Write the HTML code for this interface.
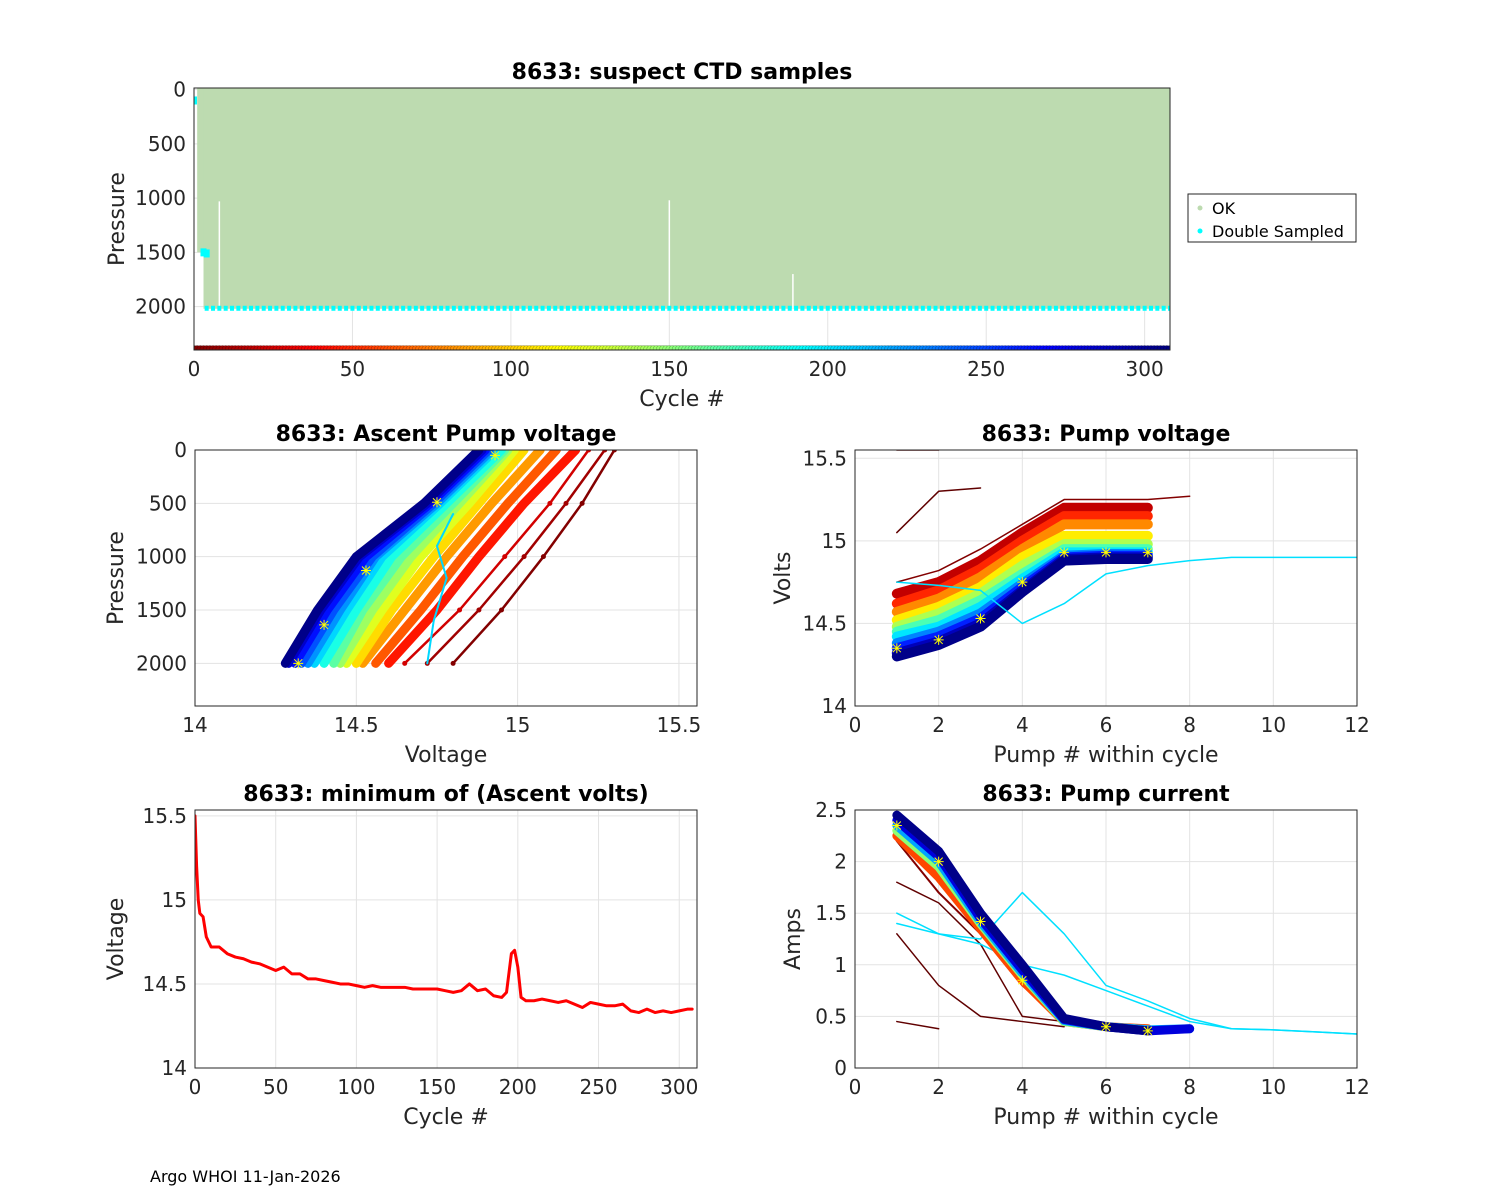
<!DOCTYPE html>
<html><head><meta charset="utf-8"><style>
html,body{margin:0;padding:0;background:#fff}
svg{display:block;font-family:"DejaVu Sans","Liberation Sans",sans-serif}
</style></head><body>
<svg id="fig" width="1500" height="1200" viewBox="0 0 1500 1200" xmlns="http://www.w3.org/2000/svg">
<rect width="1500" height="1200" fill="#fff"/>
<text x="150" y="1182" font-size="16" fill="#000">Argo WHOI 11-Jan-2026</text>
</svg>
<script>
// ---------- data ----------
const minVoltCycles = [0,1,2,3,5,7,10,15,20,25,30,35,40,45,50,55,60,65,70,75,80,85,90,95,100,105,110,115,120,125,130,135,140,145,150,155,160,165,170,175,180,185,190,193,196,198,200,202,205,210,215,220,225,230,235,240,245,250,255,260,265,270,275,280,285,290,295,300,305,308];
const minVoltValues = [15.5,15.2,15.0,14.92,14.9,14.78,14.72,14.72,14.68,14.66,14.65,14.63,14.62,14.6,14.58,14.6,14.56,14.56,14.53,14.53,14.52,14.51,14.5,14.5,14.49,14.48,14.49,14.48,14.48,14.48,14.48,14.47,14.47,14.47,14.47,14.46,14.45,14.46,14.5,14.46,14.47,14.43,14.42,14.45,14.68,14.7,14.6,14.42,14.4,14.4,14.41,14.4,14.39,14.4,14.38,14.36,14.39,14.38,14.37,14.37,14.38,14.34,14.33,14.35,14.33,14.34,14.33,14.34,14.35,14.35];

const profPressures = [2000,1500,1000,500,0];
const profCycles = [1,10,25,45,65,85,105,125,145,165,185,205,225,245,265,285,305];
const profVolts = [
[14.80,14.95,15.08,15.20,15.30],[14.72,14.88,15.02,15.15,15.27],[14.65,14.82,14.96,15.10,15.22],
[14.60,14.75,14.88,15.02,15.18],[14.56,14.70,14.83,14.97,15.12],[14.52,14.65,14.78,14.92,15.07],
[14.50,14.61,14.74,14.88,15.02],[14.47,14.58,14.70,14.85,14.99],[14.45,14.55,14.67,14.82,14.97],
[14.43,14.52,14.64,14.80,14.96],[14.40,14.50,14.61,14.78,14.95],[14.37,14.47,14.58,14.76,14.93],
[14.35,14.45,14.56,14.75,14.92],[14.33,14.43,14.55,14.74,14.91],[14.31,14.41,14.53,14.73,14.90],
[14.29,14.39,14.51,14.72,14.89],[14.28,14.38,14.50,14.71,14.88]];

const pvCycles = [1,20,50,80,110,140,170,200,230,260,290,305];
const pvVolts = [
[14.75,14.82,14.95,15.10,15.25,15.25,15.25,15.27],[14.68,14.75,14.88,15.05,15.20,15.20,15.20],
[14.62,14.70,14.83,15.00,15.15,15.15,15.15],[14.57,14.65,14.78,14.95,15.10,15.10,15.10],
[14.52,14.60,14.72,14.90,15.03,15.03,15.03],[14.48,14.56,14.68,14.85,14.98,14.98,14.98],
[14.45,14.52,14.64,14.80,14.95,14.95,14.95],[14.42,14.48,14.60,14.77,14.93,14.93,14.93],
[14.38,14.45,14.56,14.74,14.91,14.92,14.92],[14.35,14.42,14.53,14.72,14.90,14.91,14.91],
[14.32,14.39,14.50,14.70,14.89,14.90,14.90],[14.30,14.37,14.48,14.69,14.88,14.89,14.89]];
const pvOutlier = [14.75,14.73,14.7,14.5,14.62,14.8,14.85,14.88,14.9,14.9,14.9,14.9];

const pcCycles = [1,60,150,220,280,305];
const pcAmps = [
[2.20,1.70,1.30,0.80,0.45,0.40,0.38],[2.25,1.85,1.35,0.85,0.45,0.40,0.38],
[2.30,1.95,1.40,0.90,0.45,0.40,0.37],[2.35,2.00,1.42,0.92,0.46,0.40,0.37,0.38],
[2.40,2.05,1.45,0.95,0.47,0.40,0.36,0.38],[2.45,2.10,1.50,1.00,0.48,0.40,0.36]];
const pcCyanA = [1.4,1.3,1.25,1.7,1.3,0.8,0.65,0.48,0.38,0.37,0.35,0.33];
const pcCyanB = [1.5,1.3,1.2,1.0,0.9,0.75,0.6,0.45,0.38,0.37,0.35,0.33];
const pcRedA = [1.8,1.6,1.2,0.5,0.45,0.4];
const pcRedB = [1.3,0.8,0.5,0.45,0.4];

const nCycles = 308;
const okMaxPressure = 2020;
const gapCycles = [8,150,189];
const gapTops = [1030,1020,1700];
const pumpTicks = [0,2,4,6,8,10,12];

// ---------- helpers ----------
const NS="http://www.w3.org/2000/svg";
const fig=document.getElementById('fig');
function el(tag,attrs,parent){const e=document.createElementNS(NS,tag);for(const k in attrs)e.setAttribute(k,attrs[k]);(parent||fig).appendChild(e);return e;}
function jet(t){const c=v=>Math.max(0,Math.min(1,v));const r=c(1.5-Math.abs(4*t-3)),g=c(1.5-Math.abs(4*t-2)),b=c(1.5-Math.abs(4*t-1));return `rgb(${Math.round(r*255)},${Math.round(g*255)},${Math.round(b*255)})`;}
function cyc(c){return jet(1-c/nCycles);}
function axes(o){
  const g=el('g',{});
  
  
  const sx=v=>o.x0+(v-o.xmin)/(o.xmax-o.xmin)*o.w;
  const sy=o.yrev?(v=>o.y0+(v-o.ymin)/(o.ymax-o.ymin)*o.h):(v=>o.y0+o.h-(v-o.ymin)/(o.ymax-o.ymin)*o.h);
  el('rect',{x:o.x0,y:o.y0,width:o.w,height:o.h,fill:'#fff'},g);
  o.xt.forEach(v=>{const x=sx(v);el('line',{x1:x,x2:x,y1:o.y0,y2:o.y0+o.h,stroke:'#e3e3e3','stroke-width':1},g);
    const t=el('text',{x:x,y:o.y0+o.h+26,'font-size':20,'text-anchor':'middle',fill:'#262626'},g);t.textContent=v;
    });
  o.yt.forEach(v=>{const y=sy(v);el('line',{x1:o.x0,x2:o.x0+o.w,y1:y,y2:y,stroke:'#e3e3e3','stroke-width':1},g);
    const t=el('text',{x:o.x0-8,y:y+7,'font-size':20,'text-anchor':'end',fill:'#262626'},g);t.textContent=v;
    });
  const plot=el('g',{},g);
  const clip=el('clipPath',{id:'c'+o.name},g);el('rect',{x:o.x0,y:o.y0,width:o.w,height:o.h},clip);
  plot.setAttribute('clip-path',`url(#c${o.name})`);
  const tt=el('text',{x:o.x0+o.w/2,y:o.y0-9,'font-size':22,'font-weight':'bold','text-anchor':'middle',fill:'#000'},g);tt.textContent=o.title;
  
  const xl=el('text',{x:o.x0+o.w/2,y:o.y0+o.h+56,'font-size':22,'text-anchor':'middle',fill:'#262626'},g);xl.textContent=o.xlabel;
  
  const yx=o.x0-(o.ylOff||75),yy=o.y0+o.h/2;
  const yl=el('text',{x:yx,y:yy,'font-size':22,'text-anchor':'middle',fill:'#262626',transform:`rotate(-90 ${yx} ${yy})`},g);yl.textContent=o.ylabel;
  
  o.frame=()=>{el('rect',{x:o.x0,y:o.y0,width:o.w,height:o.h,fill:'none',stroke:'#262626','stroke-width':1},g);};
  return {sx,sy,plot,o};
}
function poly(a,xs,ys,color,w,name){
  const p=el('polyline',{points:xs.map((x,i)=>a.sx(x)+','+a.sy(ys[i])).join(' '),fill:'none',stroke:color,'stroke-width':w,'stroke-linejoin':'round','stroke-linecap':'round'},a.plot);
  return p;}
function star(a,x,y){const cx=a.sx(x),cy=a.sy(y);
  const s=el('path',{d:`M${cx-5},${cy}H${cx+5}M${cx},${cy-5}V${cy+5}M${cx-4},${cy-4}L${cx+4},${cy+4}M${cx-4},${cy+4}L${cx+4},${cy-4}`,stroke:'#ffff00','stroke-width':1},a.plot);
  }

// ---------- top chart ----------
const A=axes({name:'suspect-ctd-chart',x0:194,y0:88,w:976,h:262,xmin:0,xmax:308,ymin:-15,ymax:2400,yrev:true,
  xt:[0,50,100,150,200,250,300],yt:[0,500,1000,1500,2000],title:'8633: suspect CTD samples',xlabel:'Cycle #',ylabel:'Pressure',ylOff:70});
let r=el('rect',{x:A.sx(3),y:A.sy(-15),width:A.sx(nCycles)-A.sx(3),height:A.sy(okMaxPressure)-A.sy(-15),fill:'#bddbb0'},A.plot);

r=el('rect',{x:A.sx(1),y:A.sy(-15),width:A.sx(3)-A.sx(1),height:A.sy(1500)-A.sy(-15),fill:'#bddbb0'},A.plot);

gapCycles.forEach((c,i)=>{const l=el('line',{x1:A.sx(c),x2:A.sx(c),y1:A.sy(gapTops[i]),y2:A.sy(okMaxPressure),stroke:'#fff','stroke-width':1.5},A.plot);
  });
for(let c=4;c<=nCycles;c+=2){const d=el('rect',{x:A.sx(c)-2,y:A.sy(okMaxPressure)-3,width:4,height:5,fill:'#00ffff'},A.plot);
  }
[[0,100],[3,1500],[4,1510]].forEach(p=>{const d=el('rect',{x:A.sx(p[0])-3,y:A.sy(p[1])-4,width:6,height:8,fill:'#00ffff'},A.plot);
  });
for(let c=0;c<=nCycles;c++){const d=el('circle',{cx:A.sx(c),cy:A.sy(2400)-1,r:3.5,fill:cyc(c),stroke:'rgba(0,0,0,0.35)','stroke-width':0.6});
  A.plot.appendChild(d);
  }
A.o.frame();
const lg=el('g',{});
el('rect',{x:1188,y:194,width:168,height:48,fill:'#fff',stroke:'#262626','stroke-width':1},lg);
el('circle',{cx:1200,cy:208,r:2.5,fill:'#bddbb0'},lg);el('circle',{cx:1200,cy:231,r:2.5,fill:'#00ffff'},lg);
let t=el('text',{x:1212,y:214,'font-size':16},lg);t.textContent='OK';
t=el('text',{x:1212,y:237,'font-size':16},lg);t.textContent='Double Sampled';

// ---------- ascent pump voltage ----------
const B=axes({name:'ascent-pump-voltage-chart',x0:195,y0:450,w:502,h:256,xmin:14,xmax:15.556,ymin:0,ymax:2400,yrev:true,
  xt:[14,14.5,15,15.5],yt:[0,500,1000,1500,2000],title:'8633: Ascent Pump voltage',xlabel:'Voltage',ylabel:'Pressure',ylOff:72});
profCycles.forEach((c,i)=>{poly(B,profVolts[i],profPressures,cyc(c),c<30?2.5:9,'profile-cycle-'+c);
  profVolts[i].forEach((v,j)=>{const d=el('circle',{cx:B.sx(v),cy:B.sy(profPressures[j]),r:2.5,fill:cyc(c)},B.plot);});});
poly(B,[14.72,14.74,14.78,14.75,14.8],[2000,1600,1200,900,600],'#00d8ff',2,'profile-outlier');
[[14.32,2000],[14.4,1640],[14.53,1130],[14.75,490],[14.93,50]].forEach(p=>star(B,p[0],p[1]));
B.o.frame();

// ---------- pump voltage ----------
const C=axes({name:'pump-voltage-chart',x0:855,y0:450,w:502,h:256,xmin:0,xmax:12,ymin:14,ymax:15.55,
  xt:pumpTicks,yt:[14,14.5,15,15.5],title:'8633: Pump voltage',xlabel:'Pump # within cycle',ylabel:'Volts',ylOff:65});
pvCycles.forEach((c,i)=>{const ps=pvVolts[i].map((_,j)=>j+1);poly(C,ps,pvVolts[i],cyc(c),c<10?1.5:10,'pump-voltage-cycle-'+c);});
poly(C,pvOutlier.map((_,j)=>j+1),pvOutlier,'#00e0ff',1.5,'pump-voltage-outlier');
poly(C,[1,2],[15.55,15.55],'#600000',1.5,'pump-voltage-early');
poly(C,[1,2,3],[15.05,15.3,15.32],'#600000',1.5,'pump-voltage-early');
[[1,14.35],[2,14.4],[3,14.53],[4,14.75],[5,14.93],[6,14.93],[7,14.93]].forEach(p=>star(C,p[0],p[1]));
C.o.frame();

// ---------- minimum ascent volts ----------
const D=axes({name:'min-ascent-volts-chart',x0:195,y0:810,w:502,h:258,xmin:0,xmax:311,ymin:14,ymax:15.535,
  xt:[0,50,100,150,200,250,300],yt:[14,14.5,15,15.5],title:'8633: minimum of (Ascent volts)',xlabel:'Cycle #',ylabel:'Voltage',ylOff:72});
poly(D,minVoltCycles,minVoltValues,'#ff0000',3,'min-volts-line');
D.o.frame();

// ---------- pump current ----------
const E=axes({name:'pump-current-chart',x0:855,y0:810,w:502,h:258,xmin:0,xmax:12,ymin:0,ymax:2.5,
  xt:pumpTicks,yt:[0,0.5,1,1.5,2,2.5],title:'8633: Pump current',xlabel:'Pump # within cycle',ylabel:'Amps',ylOff:55});
poly(E,pcRedA.map((_,j)=>j+1),pcRedA,'#600000',1.5,'pump-current-early');
poly(E,pcRedB.map((_,j)=>j+1),pcRedB,'#600000',1.5,'pump-current-early');
poly(E,[1,2],[0.45,0.38],'#600000',1.5,'pump-current-early');
poly(E,pcCyanA.map((_,j)=>j+1),pcCyanA,'#00e0ff',1.5,'pump-current-outlier');
poly(E,pcCyanB.map((_,j)=>j+1),pcCyanB,'#00e0ff',1.5,'pump-current-outlier');
pcCycles.forEach((c,i)=>{poly(E,pcAmps[i].map((_,j)=>j+1),pcAmps[i],cyc(c),c<10?2:9,'pump-current-cycle-'+c);});
[[1,2.35],[2,2.0],[3,1.42],[4,0.85],[6,0.4],[7,0.36]].forEach(p=>star(E,p[0],p[1]));
E.o.frame();
</script>
</body></html>
